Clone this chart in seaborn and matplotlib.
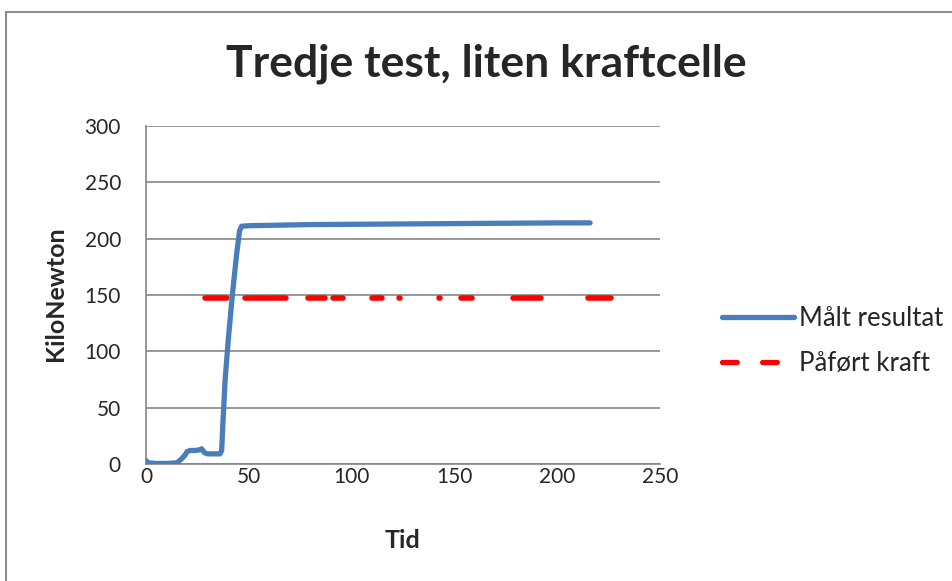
import seaborn as sns
import matplotlib.pyplot as plt
from matplotlib.lines import Line2D
from matplotlib.patches import Rectangle

# Målt resultat (blue line)
tid = [0, 1, 5, 10, 15, 17, 19, 20, 21.5, 24, 26, 27, 28.5, 30, 33, 36, 36.8, 37.5,
       38.5, 40, 42, 44, 45.5, 46.5, 50, 80, 120, 160, 200, 216]
maalt = [3, 1, 0.5, 0.5, 1, 4, 8, 11, 12, 12, 12.5, 13.5, 10, 9, 9, 9, 12, 40,
         75, 110, 150, 185, 207, 211, 211.5, 212.5, 213, 213.5, 214, 214]

# Påført kraft (red dashed line), visible dash pieces
kraft_verdi = 147
kraft_start = [28.7, 48, 60, 79, 91, 110, 123, 142.5, 153, 178.5, 184, 215]
kraft_slutt = [39.4, 59, 68, 87, 96, 115, 123.3, 142.8, 158.5, 183, 192, 226]

sns.set_style("white")
plt.rcParams['font.family'] = ['Lato', 'DejaVu Sans']

W, H = 953, 581
fig = plt.figure(figsize=(W / 100, H / 100), dpi=100)
ax = fig.add_axes([146 / W, 1 - 464 / H, 514 / W, 338 / H])

# outer chart border (right and bottom edges fall outside the image)
fig.patches.append(Rectangle((6 / W, -10 / H), 960 / W, (H - 12 + 10) / H,
                             transform=fig.transFigure, fill=False,
                             edgecolor="#8c8c8c", linewidth=1.5))

for s, e in zip(kraft_start, kraft_slutt):
    sns.lineplot(x=[s, e], y=[kraft_verdi, kraft_verdi], ax=ax, color="#ff0000",
                 linewidth=4, solid_capstyle="round", zorder=3)

sns.lineplot(x=tid, y=maalt, ax=ax, color="#4a7ebb", linewidth=3.8,
             solid_capstyle="round", solid_joinstyle="round", sort=False,
             estimator=None, zorder=4)

ax.set_xlim(0, 250)
ax.set_ylim(0, 300)
ax.set_xticks(range(0, 251, 50))
ax.set_yticks(range(0, 301, 50))
ax.grid(axis="y", color="#868686", linewidth=1.2)
ax.tick_params(labelsize=15, length=0)
ax.tick_params(axis="x", pad=2)
ax.tick_params(axis="y", pad=18)
for side in ["top", "right"]:
    ax.spines[side].set_visible(False)
for side in ["left", "bottom"]:
    ax.spines[side].set_color("#868686")
    ax.spines[side].set_linewidth(1.2)

fig.text(486 / W, 1 - 64 / H, "Tredje test, liten kraftcelle", fontsize=32,
         fontweight="bold", ha="center", va="center")
fig.text(403 / W, 1 - 540 / H, "Tid", fontsize=18, fontweight="bold",
         ha="center", va="center")
fig.text(56 / W, 1 - 294 / H, "KiloNewton", fontsize=18, fontweight="bold",
         ha="center", va="center", rotation=90)

handles = [Line2D([], [], color="#4a7ebb", linewidth=3.8, solid_capstyle="round"),
           Line2D([], [], color="#ff0000", linewidth=3.8, linestyle=(0, (2.8, 4.8)),
                  dash_capstyle="round")]
fig.legend(handles, ["Målt resultat", "Påført kraft"], loc="center left",
           bbox_to_anchor=(722 / W, 1 - 341 / H), frameon=False, fontsize=18.5,
           borderpad=0, borderaxespad=0, handlelength=2.8, handletextpad=0.2,
           labelspacing=0.75)

plt.savefig("out.png", dpi=100)
